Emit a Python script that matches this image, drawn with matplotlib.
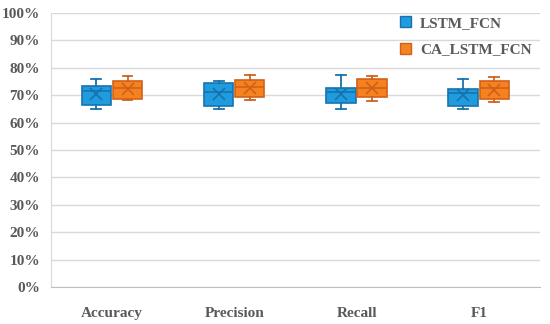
import matplotlib
matplotlib.use("Agg")
import matplotlib.pyplot as plt
from matplotlib.patches import Patch
from matplotlib.ticker import PercentFormatter

categories = ["Accuracy", "Precision", "Recall", "F1"]
series_names = ["LSTM_FCN", "CA_LSTM_FCN"]

# values in percent
lstm_whislo = [65.1, 65.0, 64.9, 65.0]
lstm_q1     = [66.4, 66.2, 67.3, 66.2]
lstm_med    = [71.5, 71.0, 71.3, 70.9]
lstm_q3     = [73.5, 74.3, 72.7, 72.3]
lstm_whishi = [75.9, 75.3, 77.4, 75.9]
lstm_mean   = [70.5, 70.4, 70.4, 70.0]

ca_whislo = [68.2, 68.1, 67.9, 67.4]
ca_q1     = [68.6, 69.5, 69.5, 68.7]
ca_med    = [72.5, 72.9, 72.5, 72.5]
ca_q3     = [75.3, 75.5, 75.9, 75.3]
ca_whishi = [77.0, 77.5, 77.1, 76.8]
ca_mean   = [72.2, 72.5, 72.6, 72.0]

yticks = list(range(0, 101, 10))

blue_face, blue_edge = "#1F9BDE", "#1673AE"
orange_face, orange_edge = "#F6821F", "#D0611A"
text_color = "#595959"
font = ["Liberation Serif", "DejaVu Serif"]

fig = plt.figure(figsize=(5.5, 3.24), dpi=100)
ax = fig.add_axes([0.093, 0.114, 0.889, 0.846])

def make_stats(wl, q1, med, q3, wh, mean):
    return [dict(whislo=a, q1=b, med=c, q3=d, whishi=e, mean=f, fliers=[])
            for a, b, c, d, e, f in zip(wl, q1, med, q3, wh, mean)]

groups = [
    (make_stats(lstm_whislo, lstm_q1, lstm_med, lstm_q3, lstm_whishi, lstm_mean), -0.13, blue_face, blue_edge),
    (make_stats(ca_whislo, ca_q1, ca_med, ca_q3, ca_whishi, ca_mean), 0.125, orange_face, orange_edge),
]
for stats, off, fc, ec in groups:
    pos = [i + off for i in range(len(categories))]
    ax.bxp(stats, positions=pos, widths=0.24, patch_artist=True,
           showmeans=True, showfliers=False, capwidths=0.08,
           boxprops=dict(facecolor=fc, edgecolor=ec, linewidth=1.2),
           medianprops=dict(color=ec, linewidth=1.2),
           whiskerprops=dict(color=ec, linewidth=1.3),
           capprops=dict(color=ec, linewidth=1.3),
           meanprops=dict(marker="x", markeredgecolor=ec, markersize=8, markeredgewidth=1.2),
           manage_ticks=False, zorder=3)

ax.set_xlim(-0.5, len(categories) - 0.5)
ax.set_ylim(0, 100)
ax.set_yticks(yticks)
ax.yaxis.set_major_formatter(PercentFormatter(decimals=0))
ax.set_xticks(range(len(categories)))
ax.set_xticklabels(categories)
ax.grid(axis="y", color="#D9D9D9", linewidth=1.0, zorder=0)
ax.set_axisbelow(True)
for s in ["top", "right"]:
    ax.spines[s].set_visible(False)
ax.spines["left"].set_color("#D9D9D9")
ax.spines["bottom"].set_color("#BFBFBF")
ax.tick_params(axis="both", length=0, colors=text_color, labelsize=11)
ax.tick_params(axis="y", pad=8)
ax.tick_params(axis="x", pad=14)
for lbl in ax.get_xticklabels() + ax.get_yticklabels():
    lbl.set_family(font)
    lbl.set_fontweight("bold")

handles = [Patch(facecolor=blue_face, edgecolor=blue_edge),
           Patch(facecolor=orange_face, edgecolor=orange_edge)]
leg = ax.legend(handles, series_names, loc="upper left", bbox_to_anchor=(0.70, 1.012),
                borderaxespad=0, frameon=False, handlelength=0.75, handleheight=0.75,
                handletextpad=0.6, labelspacing=0.85,
                prop=dict(family=font, size=11, weight="bold"))
for t in leg.get_texts():
    t.set_color(text_color)

fig.savefig("out.png", dpi=100)
